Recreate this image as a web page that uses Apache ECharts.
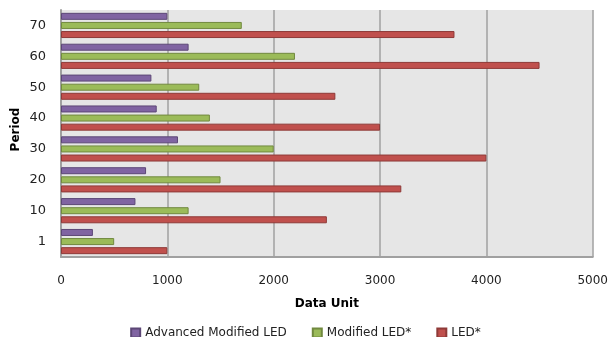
<!DOCTYPE html>
<html>
<head>
<meta charset="utf-8">
<script src="https://cdn.jsdelivr.net/npm/echarts@6/dist/echarts.min.js"></script>
<style>
  html, body { margin: 0; padding: 0; background: #fff; }
  #chart { width: 611px; height: 337px; }
</style>
</head>
<body>
<div id="chart"></div>
<script>
// Period categories, bottom to top
const periods = ['1', '10', '20', '30', '40', '50', '60', '70'];

// Values per period (Data Unit)
const advancedModifiedLED = [300, 700, 800, 1100, 900, 850, 1200, 1000];
const modifiedLED = [500, 1200, 1500, 2000, 1400, 1300, 2200, 1700];
const led = [1000, 2500, 3200, 4000, 3000, 2580, 4500, 3700];

const seriesNames = ['Advanced Modified LED', 'Modified LED*', 'LED*'];
const xTicks = { min: 0, max: 5000, interval: 1000 };

const fontFamily = '"DejaVu Sans", Verdana, sans-serif';

const chart = echarts.init(document.getElementById('chart'), null, { renderer: 'canvas' });

function barSeries(name, data, color, border) {
  return {
    name: name,
    type: 'bar',
    data: data,
    barWidth: 7,
    barGap: '30%',
    itemStyle: { color: color, borderColor: border, borderWidth: 1 },
    emphasis: { disabled: true }
  };
}

chart.setOption({
  animation: false,
  textStyle: { fontFamily: fontFamily },
  grid: { left: 61, right: 17, top: 10, bottom: 80, show: true, backgroundColor: '#e6e6e6', borderWidth: 0 },
  legend: {
    top: 322,
    left: 'center',
    itemWidth: 9,
    itemHeight: 9,
    itemGap: 25,
    icon: 'rect',
    textStyle: { fontSize: 12, color: '#222', fontFamily: fontFamily },
    data: seriesNames
  },
  xAxis: {
    type: 'value',
    min: xTicks.min,
    max: xTicks.max,
    interval: xTicks.interval,
    name: 'Data Unit',
    nameLocation: 'middle',
    nameGap: 41,
    nameMoveOverlap: false,
    nameTextStyle: { fontWeight: 'bold', fontSize: 12, color: '#000' },
    axisLine: { show: true, lineStyle: { color: '#a0a0a0', width: 2 } },
    axisTick: { show: false },
    axisLabel: { fontSize: 12, color: '#222', margin: 18, formatter: function (v) { return String(v); } },
    splitLine: { show: true, lineStyle: { color: '#a0a0a0', width: 1.5 } }
  },
  yAxis: {
    type: 'category',
    data: periods,
    name: 'Period',
    nameLocation: 'middle',
    nameGap: 39,
    nameMoveOverlap: false,
    nameRotate: 90,
    nameTextStyle: { fontWeight: 'bold', fontSize: 12, color: '#000', padding: [0, 0, 0, 8] },
    axisLine: { show: true, lineStyle: { color: '#a0a0a0', width: 2 } },
    axisTick: { show: false },
    axisLabel: { fontSize: 13, color: '#222', margin: 15 },
    splitLine: { show: false }
  },
  series: [
    barSeries(seriesNames[0], advancedModifiedLED, '#8064a2', '#5c4776'),
    barSeries(seriesNames[1], modifiedLED, '#9bbb59', '#71893f'),
    barSeries(seriesNames[2], led, '#c0504d', '#8e3a38')
  ]
});
</script>
</body>
</html>
